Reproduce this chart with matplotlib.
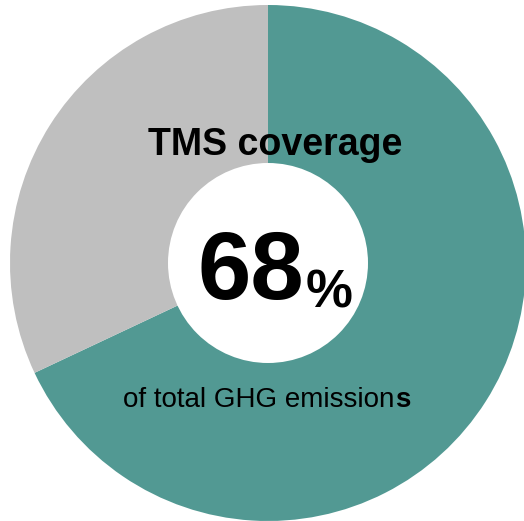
import matplotlib
matplotlib.use("Agg")
import matplotlib.pyplot as plt
from matplotlib.patches import Circle

categories = ["TMS coverage", "Not covered"]
values = [68, 32]
colors = ["#529993", "#bfbfbf"]
title = "TMS coverage"
pct_label = "68"
subtitle = "of total GHG emission"

plt.rcParams['font.family'] = ['Liberation Sans', 'DejaVu Sans']

fig = plt.figure(figsize=(5.24, 5.21), dpi=100)
ax = fig.add_axes([0, 0, 1, 1])
ax.pie(values, colors=colors, startangle=90, counterclock=False,
       center=(268, 258), radius=258, wedgeprops=dict(linewidth=0))
ax.add_patch(Circle((268, 258), 100, facecolor="white", edgecolor="none", zorder=3))
ax.set_xlim(0, 524)
ax.set_ylim(0, 521)
ax.set_aspect('equal')
ax.axis('off')

ax.text(275, 376, title, ha='center', va='center', fontsize=27, fontweight='bold', zorder=4)
t68 = ax.text(251, 222, pct_label, ha='center', va='baseline', fontsize=69, fontweight='bold', zorder=4)
ax.annotate('%', xy=(1, 0), xycoords=t68, xytext=(1, 0), textcoords='offset points',
            ha='left', va='bottom', fontsize=38, fontweight='bold', zorder=4)
tsub = ax.text(259, 114, subtitle, ha='center', va='baseline', fontsize=20, zorder=4)
ax.annotate('s', xy=(1, 0), xycoords=tsub, ha='left', va='bottom', fontsize=20,
            fontweight='bold', zorder=4)

fig.savefig("out.png", dpi=100)
